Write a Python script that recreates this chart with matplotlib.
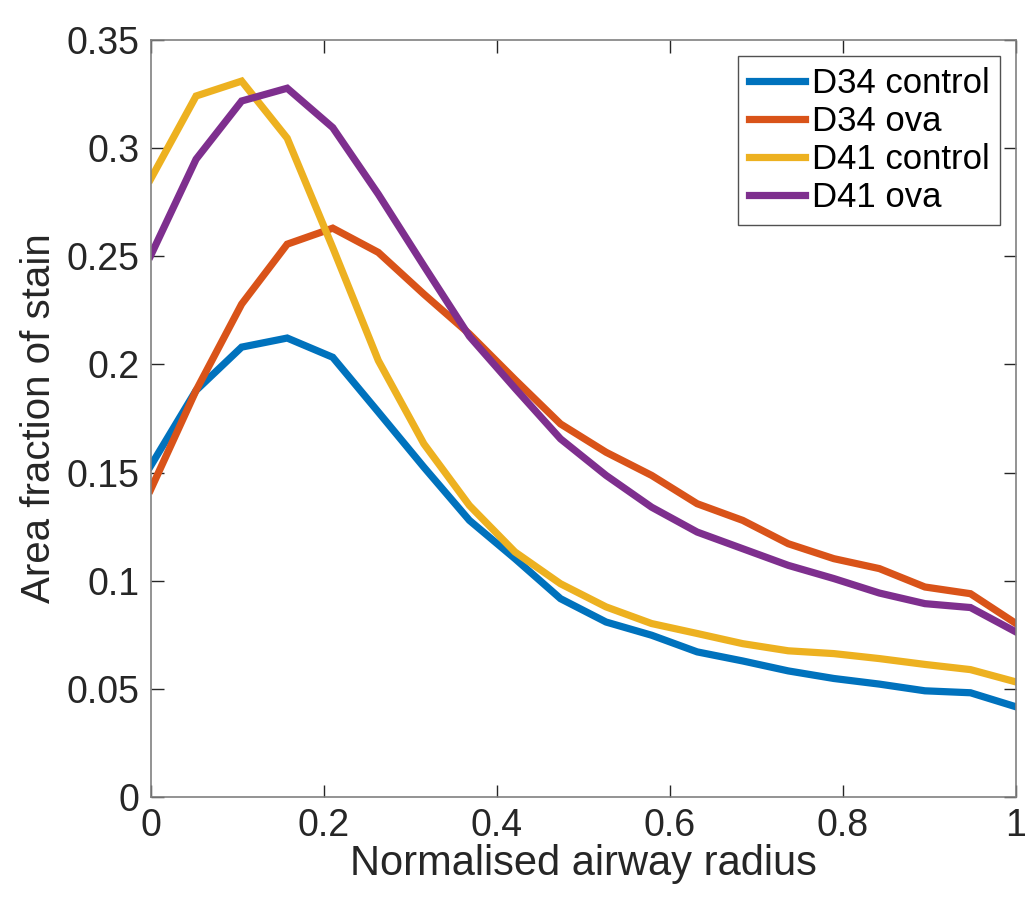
import numpy as np
import matplotlib
matplotlib.use("Agg")
import matplotlib.pyplot as plt

plt.rcParams['font.family'] = ['Liberation Sans', 'DejaVu Sans']

radius = np.linspace(0, 1, 20)
d34_control = [0.153, 0.188, 0.208, 0.2122, 0.2033, 0.178, 0.1525, 0.1279, 0.1102, 0.0917,
               0.0809, 0.0748, 0.0671, 0.0629, 0.0583, 0.0548, 0.0522, 0.0491, 0.0482, 0.0417]
d34_ova = [0.142, 0.188, 0.2279, 0.2556, 0.263, 0.2518, 0.2325, 0.2141, 0.193, 0.1725,
           0.1594, 0.1487, 0.1356, 0.1279, 0.1171, 0.1102, 0.1056, 0.0971, 0.0940, 0.0802]
d41_control = [0.2856, 0.3241, 0.331, 0.3046, 0.254, 0.2018, 0.1633, 0.1348, 0.1133, 0.0986,
               0.0879, 0.0802, 0.0756, 0.0709, 0.0676, 0.0663, 0.0640, 0.0613, 0.0589, 0.0532]
d41_ova = [0.2502, 0.2949, 0.3218, 0.3277, 0.3095, 0.2787, 0.2456, 0.213, 0.189, 0.1656,
           0.1487, 0.1340, 0.1225, 0.1148, 0.1071, 0.1010, 0.0943, 0.0894, 0.0876, 0.0763]

series = [("D34 control", d34_control, "#0072BD"),
          ("D34 ova", d34_ova, "#D95319"),
          ("D41 control", d41_control, "#EDB120"),
          ("D41 ova", d41_ova, "#7E2F8E")]

xticks = [0, 0.2, 0.4, 0.6, 0.8, 1]
xticklabels = ["0", "0.2", "0.4", "0.6", "0.8", "1"]
yticks = [0, 0.05, 0.1, 0.15, 0.2, 0.25, 0.3, 0.35]
yticklabels = ["0", "0.05", "0.1", "0.15", "0.2", "0.25", "0.3", "0.35"]

fig = plt.figure(figsize=(10.29, 9.09), dpi=100)
ax = fig.add_axes([0.1463, 0.1232, 0.8411, 0.8328])

for name, vals, col in series:
    ax.plot(radius, vals, color=col, lw=5.2, label=name, solid_joinstyle='miter')

ax.set_xlim(0, 1)
ax.set_ylim(0, 0.35)
ax.set_xticks(xticks)
ax.set_xticklabels(xticklabels)
ax.set_yticks(yticks)
ax.set_yticklabels(yticklabels)
ax.tick_params(direction='in', length=9, width=1, top=True, right=True,
               labelsize=27, colors='#262626', pad=8)
for s in ax.spines.values():
    s.set_color('#808080')
    s.set_linewidth(1.2)

ax.set_xlabel("Normalised airway radius", fontsize=30, color='#262626', labelpad=0)
ax.set_ylabel("Area fraction of stain", fontsize=29, color='#262626', labelpad=6)

leg = ax.legend(loc='upper right', fontsize=25, frameon=True, fancybox=False,
                handlelength=1.6, handletextpad=0.2, borderpad=0.32, labelspacing=0.15,
                borderaxespad=0.45)
leg.get_frame().set_edgecolor('#262626')
leg.get_frame().set_linewidth(1.0)

fig.savefig("out.png", dpi=100)
